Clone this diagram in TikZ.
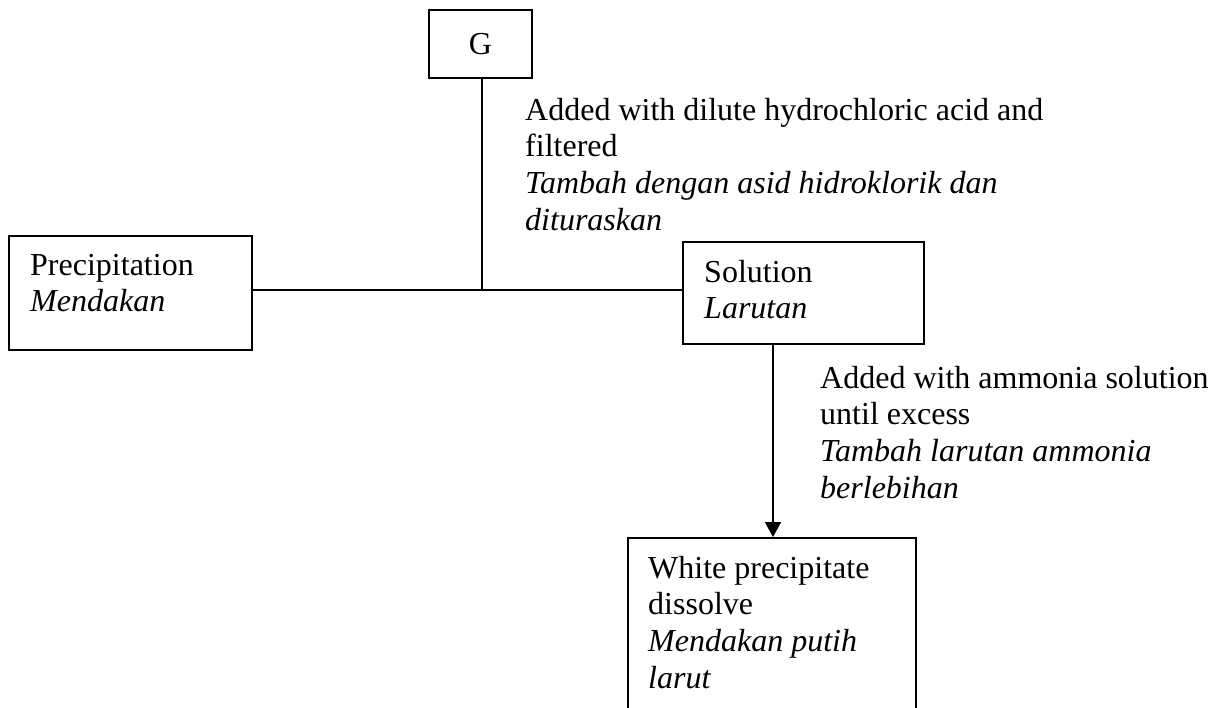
\documentclass[tikz,border=0pt]{standalone}
\usepackage{fontspec}
\setmainfont{Liberation Serif}
\usetikzlibrary{arrows.meta}
\begin{document}
\begin{tikzpicture}[x=1pt,y=-1pt,
  box/.style={draw,line width=1.8pt,inner sep=0pt,rectangle},
  txt/.style={anchor=base west,inner sep=0pt,align=left},
  ln/.style={line width=1.8pt},
  font=\fontsize{32}{36.8}\selectfont]
\useasboundingbox (0,0) rectangle (1222,707);
\fill[white] (0,0) rectangle (1222,707);
\clip (0,0) rectangle (1222,707);
% boxes
\node[box,minimum width=103pt,minimum height=68pt] (G) at (480.5,44) {G};
\node[box,minimum width=243pt,minimum height=114pt] (prec) at (130.5,293) {};
\node[box,minimum width=241pt,minimum height=102pt] (sol) at (803.5,293) {};
\node[box,minimum width=288pt,minimum height=200pt,anchor=north] (white) at (772,537) {};
% texts (anchor = baseline of the last line)
\node[txt] (thcl) at (525,230.4) {Added with dilute hydrochloric acid and\\ filtered\\ \itshape Tambah dengan asid hidroklorik dan\\ \itshape dituraskan};
\node[txt] (tprec) at (30,311.8) {Precipitation\\ \itshape Mendakan};
\node[txt] (tsol) at (704,318.8) {Solution\\ \itshape Larutan};
\node[txt] (tnh3) at (820,498.4) {Added with ammonia solution\\ until excess\\ \itshape Tambah larutan ammonia\\ \itshape berlebihan};
\node[txt] (twhite) at (648,688.4) {White precipitate\\ dissolve\\ \itshape Mendakan putih\\ \itshape larut};
% connectors
\coordinate (j) at (482,290);
\coordinate (ax) at (773,0);
\draw[ln] (G.south -| j) -- (j);
\draw[ln] (prec.east |- j) -- (sol.west |- j);
\draw[ln,-{Triangle[length=15pt,width=16pt]}] (ax |- sol.south) -- (ax |- white.north);
\end{tikzpicture}
\end{document}
